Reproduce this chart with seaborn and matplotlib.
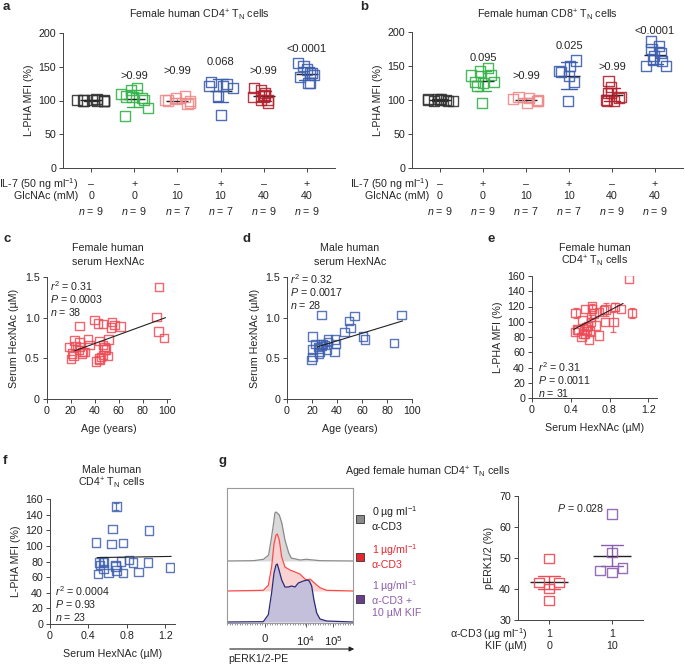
import numpy as np
import pandas as pd
import matplotlib
matplotlib.use("Agg")
import matplotlib.pyplot as plt
import matplotlib.transforms as mtrans
from matplotlib.patches import Rectangle
from matplotlib.ticker import MultipleLocator
import seaborn as sns

# -----------------------------------------------------
# Data
# -----------------------------------------------------

groups = ["g0", "g1", "g2", "g3", "g4", "g5"]
il7_row = ["–", "+", "–", "+", "–", "+"]
glcnac_row = ["0", "0", "10", "10", "40", "40"]

cd4_vals = [
    [100, 101, 99, 100, 102, 100, 99, 101, 100],
    [105, 104, 106, 101, 89, 77.5, 118, 110, 115],
    [101, 99, 103, 96, 106, 95, 100],
    [122, 121, 128, 125, 107, 79, 118],
    [106, 105, 118, 111, 108, 101, 101, 97, 116],
    [141, 138, 155.5, 150.6, 146, 141, 135, 126, 126],
]
cd4_p = ["", ">0.99", ">0.99", "0.068", ">0.99", "<0.0001"]

cd8_vals = [
    [100, 99, 101, 100, 98, 101, 100, 102, 99],
    [125, 147, 137, 142, 136, 120, 126, 126, 96],
    [100, 101, 103, 98, 105, 96, 99],
    [143, 149.5, 158, 127, 98, 140.6, 135],
    [128, 118.6, 110, 105, 103, 98, 98, 100.5, 110],
    [186, 179, 175, 165, 169, 159, 150, 149.5, 157],
]
cd8_p = ["", "0.095", ">0.99", "0.025", ">0.99", "<0.0001"]

age_f = [40, 27.5, 42.8, 47, 54.7, 56.7, 53.9, 61.7, 91.4, 93.3, 97.8, 18.6, 23.3,
         24.2, 27.5, 28, 27, 29.7, 31.7, 21.4, 22.5, 20.6, 34.4, 35.8, 44, 47, 48.3,
         48.3, 49.7, 51.7, 51.1, 45.6, 43.6, 41.4, 44.2, 47, 30, 93.5]
hex_f = [0.97, 0.90, 0.93, 0.92, 0.95, 0.91, 0.88, 0.89, 1.01, 0.83, 0.75, 0.64, 0.72,
         0.65, 0.70, 0.64, 0.60, 0.56, 0.58, 0.56, 0.53, 0.49, 0.74, 0.66, 0.71, 0.66, 0.64,
         0.61, 0.61, 0.73, 0.53, 0.52, 0.50, 0.46, 0.48, 0.54, 0.58, 1.38]
fit_c_x = [23, 99]
fit_c_y = [0.59, 1.0]

age_m = [27.7, 53.9, 49.6, 50.9, 45.9, 91.7, 61, 62.4, 85.6, 20.5, 22.4, 20.5, 20.5,
         19.7, 25.8, 25.8, 27, 29, 30.4, 33, 32.6, 31.8, 37.9, 38.4, 39.2, 25, 27.7, 26]
hex_m = [1.03, 1.02, 0.96, 0.87, 0.82, 1.03, 0.77, 0.73, 0.69, 0.77, 0.68, 0.61, 0.52,
         0.48, 0.56, 0.62, 0.68, 0.68, 0.66, 0.70, 0.74, 0.61, 0.58, 0.73, 0.68, 0.64, 0.65, 0.58]
fit_d_x = [24, 92.5]
fit_d_y = [0.64, 0.96]

hex_e = [1.00, 0.45, 0.55, 0.62, 0.62, 0.64, 0.61, 0.52, 0.61, 0.75, 0.84, 0.74, 0.76,
         0.855, 0.92, 1.03, 0.69, 0.66, 0.445, 0.48, 0.54, 0.53, 0.51, 0.55, 0.57, 0.60,
         0.59, 0.69, 0.58, 0.555, 0.47]
mfi_e = [156, 111.5, 117, 120, 117, 110.7, 106, 102, 100, 100, 100, 115, 116, 119, 117,
         111.5, 113, 95, 86.7, 89, 88, 84.6, 80, 84, 90, 87, 76.7, 82, 94, 93, 90]
err_e = [0, 6, 0, 3, 0, 0, 3, 0, 0, 0, 13, 0, 8, 5, 0, 6, 0, 0, 0, 0, 0, 0, 0, 0, 0, 0,
         0, 0, 0, 0, 0]
fit_e_x = [0.43, 0.94]
fit_e_y = [90, 124]

hex_mf = [0.69, 0.65, 1.03, 0.48, 0.64, 0.76, 0.51, 0.52, 0.55, 0.56, 0.68, 0.68, 0.74,
          0.82, 0.86, 1.02, 1.25, 0.50, 0.61, 0.69, 0.76, 0.92, 0.555]
mfi_mf = [150.4, 121.4, 119.7, 104.3, 102, 103.4, 78.6, 75.6, 79.9, 78.6, 75.6, 73.5, 79.9,
          82, 78.6, 78.6, 72.2, 64.1, 65, 68.3, 65, 66.3, 70]
err_mf = [5, 0, 0, 0, 0, 0, 0, 0, 0, 0, 0, 0, 0, 0, 0, 0, 0, 0, 0, 0, 0, 0, 0]
fit_f_x = [0.49, 1.26]
fit_f_y = [85, 86.5]

# flow histograms (x as fraction of the axis, height above each trace's baseline)
grey_x = [0.0, 0.21, 0.29, 0.33, 0.35, 0.37, 0.38, 0.39, 0.415, 0.435, 0.46, 0.49, 0.51,
          0.58, 0.63, 0.74, 1.0]
grey_h = [0, 0.3, 1.7, 6, 21, 38, 48, 49, 46, 38, 21, 8, 3, 1, 1.7, 0.3, 0]
red_x = [0.0, 0.288, 0.328, 0.354, 0.373, 0.389, 0.399, 0.415, 0.434, 0.46, 0.5, 0.54,
         0.579, 0.619, 0.638, 0.659, 0.685, 0.738, 0.791, 1.0]
red_h = [0, 0.7, 5.7, 24, 47, 56, 57, 51, 34, 24, 21, 19, 17, 12, 11, 12, 9, 3.3, 0.7, 0]
purple_x = [0.0, 0.288, 0.328, 0.354, 0.373, 0.389, 0.399, 0.415, 0.434, 0.46, 0.487,
            0.513, 0.54, 0.566, 0.606, 0.638, 0.653, 0.672, 0.69, 0.712, 0.738, 0.791, 1.0]
purple_h = [0, 0.3, 7.3, 29, 49, 57, 58, 51, 42, 35, 35, 36, 35, 39, 41, 42, 41, 36, 22,
            9, 3, 1, 0]
hist_ticks = [0.30, 0.625, 0.845]
hist_ticklabels = ["0", "$10^{4}$", "$10^{5}$"]

perk_groups = ["ctrl", "kif"]
perk_ctrl = [49.8, 42.1, 40.2, 42.1, 36.3]
perk_kif = [64.2, 51.8, 46.7, 45.3, 46.0]
acd3_row = ["1", "1"]
kif_row = ["0", "10"]

# -----------------------------------------------------
# Style
# -----------------------------------------------------

sns.set_theme(style="ticks")
plt.rcParams["font.family"] = ["Liberation Sans", "DejaVu Sans"]
plt.rcParams["mathtext.fontset"] = "custom"
plt.rcParams["mathtext.rm"] = "Liberation Sans"
plt.rcParams["mathtext.it"] = "Liberation Sans:italic"
plt.rcParams["mathtext.bf"] = "Liberation Sans:bold"
plt.rcParams["font.size"] = 7.7
plt.rcParams["axes.linewidth"] = 0.7
plt.rcParams["axes.edgecolor"] = "#444444"
plt.rcParams["xtick.color"] = "#444444"
plt.rcParams["ytick.color"] = "#444444"
plt.rcParams["xtick.labelcolor"] = "#222222"
plt.rcParams["ytick.labelcolor"] = "#222222"

FS = 7.7
BLACK = "#333333"
GREEN = "#35b24a"
PINK = "#f08a8a"
BLUE = "#3e5fae"
DRED = "#b0232e"
RED = "#ee4a55"
PURPLE = "#8c5fae"

W, H = 685, 665


def box(left, top, right, bottom):
    return [left / W, 1 - bottom / H, (right - left) / W, (bottom - top) / H]


def ftext(x, y, s, **kw):
    kw.setdefault("ha", "center")
    kw.setdefault("va", "center")
    kw.setdefault("fontsize", FS)
    fig.text(x / W, 1 - y / H, s, **kw)


def hollow(ax, start, lw=1.0, alpha=0.9):
    for coll in ax.collections[start:]:
        fc = coll.get_facecolors()
        coll.set_edgecolors(fc)
        coll.set_facecolors("none")
        coll.set_linewidth(lw)
        coll.set_alpha(alpha)


def style_ax(ax):
    sns.despine(ax=ax)
    ax.tick_params(direction="out", length=3, width=0.7, labelsize=FS, pad=2)


fig = plt.figure(figsize=(6.85, 6.65), dpi=100)

# -----------------------------------------------------
# Panels a / b : L-PHA MFI per condition
# -----------------------------------------------------

pal = [BLACK, GREEN, PINK, BLUE, DRED, BLUE]


def strip_panel(ax, vals, pvals, p_y, seed):
    df = pd.DataFrame({
        "group": np.concatenate([[g] * len(v) for g, v in zip(groups, vals)]),
        "value": np.concatenate(vals),
    })
    np.random.seed(seed)
    sns.stripplot(data=df, x="group", y="value", hue="group", palette=pal,
                  order=groups, hue_order=groups, jitter=0.32, marker="s", size=7.3,
                  legend=False, ax=ax)
    hollow(ax, 0)
    sns.pointplot(data=df, x="group", y="value", hue="group", palette=pal,
                  order=groups, hue_order=groups, errorbar="sd", capsize=0.35,
                  marker="", linestyle="none", err_kws={"linewidth": 1},
                  legend=False, ax=ax)
    sns.pointplot(data=df, x="group", y="value", order=groups, errorbar=None,
                  color="#222222", marker="_", markersize=16, markeredgewidth=1.0,
                  linestyle="none", ax=ax)
    ax.set_xlim(-0.65, 5.65)
    ax.set_ylim(0, 200)
    ax.set_yticks([0, 50, 100, 150, 200])
    ax.set_xticks(range(6))
    ax.set_xticklabels([])
    ax.set_xlabel("")
    ax.set_ylabel("L-PHA MFI (%)", fontsize=FS, labelpad=3)
    style_ax(ax)
    for i, (p, y) in enumerate(zip(pvals, p_y)):
        if p:
            ax.text(i, y, p, ha="center", va="center", fontsize=FS + 0.3)
    # condition rows under the axis
    tr = mtrans.blended_transform_factory(ax.transData, fig.transFigure)
    for i in range(6):
        ax.text(i, 1 - 184 / H, il7_row[i], transform=tr, ha="center", va="center", fontsize=FS)
        ax.text(i, 1 - 196 / H, glcnac_row[i], transform=tr, ha="center", va="center", fontsize=FS)
        ax.text(i, 1 - 211 / H, "$n$ = %d" % len(vals[i]), transform=tr, ha="center",
                va="center", fontsize=FS)


ax_a = fig.add_axes(box(63, 33, 335, 168))
strip_panel(ax_a, cd4_vals, cd4_p, [0, 137, 143, 157, 144, 176], 4)
ax_b = fig.add_axes(box(412, 32, 683, 168))
strip_panel(ax_b, cd8_vals, cd8_p, [0, 162, 136, 180, 148, 201], 7)

ftext(78, 184, "IL-7 (50 ng ml$^{-1}$)", ha="right")
ftext(78, 196, "GlcNAc (mM)", ha="right")
ftext(429, 184, "IL-7 (50 ng ml$^{-1}$)", ha="right")
ftext(429, 196, "GlcNAc (mM)", ha="right")
ftext(199, 15, "Female human CD4$^{+}$ T$_{\\rm N}$ cells")
ftext(547, 15, "Female human CD8$^{+}$ T$_{\\rm N}$ cells")

# -----------------------------------------------------
# Panels c-f : correlations
# -----------------------------------------------------


def scatter_panel(ax, x, y, color, fit_x, fit_y, err=None):
    sns.scatterplot(x=x, y=y, color=color, marker="s", s=36, ax=ax)
    hollow(ax, 0, lw=1.0, alpha=0.85)
    if err is not None:
        ex = [a for a, e in zip(x, err) if e > 0]
        ey = [b for b, e in zip(y, err) if e > 0]
        ee = [e for e in err if e > 0]
        ax.errorbar(ex, ey, yerr=ee, fmt="none", ecolor=color, elinewidth=0.9,
                    capsize=2.2, capthick=0.9, alpha=0.85)
    sns.lineplot(x=fit_x, y=fit_y, color="#222222", linewidth=0.8, ax=ax)
    style_ax(ax)


ax_c = fig.add_axes(box(46.5, 277, 170.3, 399))
scatter_panel(ax_c, age_f, hex_f, RED, fit_c_x, fit_c_y)
ax_c.set_xlim(0, 103)
ax_c.set_ylim(0, 1.5)
ax_c.set_xticks([0, 20, 40, 60, 80, 100])
ax_c.set_yticks([0, 0.5, 1.0, 1.5])
ax_c.set_yticklabels(["0", "0.5", "1.0", "1.5"])
ax_c.set_xlabel("Age (years)", fontsize=FS, labelpad=6)
ax_c.set_ylabel("Serum HexNAc (µM)", fontsize=FS, labelpad=4)

ax_d = fig.add_axes(box(287, 277, 412, 399))
scatter_panel(ax_d, age_m, hex_m, BLUE, fit_d_x, fit_d_y)
ax_d.set_xlim(0, 100)
ax_d.set_ylim(0, 1.5)
ax_d.set_xticks([0, 20, 40, 60, 80, 100])
ax_d.set_yticks([0, 0.5, 1.0, 1.5])
ax_d.set_yticklabels(["0", "0.5", "1.0", "1.5"])
ax_d.set_xlabel("Age (years)", fontsize=FS, labelpad=6)
ax_d.set_ylabel("Serum HexNAc (µM)", fontsize=FS, labelpad=4)

ax_e = fig.add_axes(box(532, 276, 657, 398))
scatter_panel(ax_e, hex_e, mfi_e, RED, fit_e_x, fit_e_y, err_e)
ax_e.set_xlim(0, 1.29)
ax_e.set_ylim(0, 160)
ax_e.set_xticks([0, 0.4, 0.8, 1.2])
ax_e.set_xticklabels(["0", "0.4", "0.8", "1.2"])
ax_e.set_yticks(range(0, 161, 20))
ax_e.set_xlabel("Serum HexNAc (µM)", fontsize=FS, labelpad=6)
ax_e.set_ylabel("L-PHA MFI (%)", fontsize=FS, labelpad=3)

ax_f = fig.add_axes(box(50, 499, 175, 624))
scatter_panel(ax_f, hex_mf, mfi_mf, BLUE, fit_f_x, fit_f_y, err_mf)
ax_f.set_xlim(0, 1.3)
ax_f.set_ylim(0, 160)
ax_f.set_xticks([0, 0.4, 0.8, 1.2])
ax_f.set_xticklabels(["0", "0.4", "0.8", "1.2"])
ax_f.set_yticks(range(0, 161, 20))
ax_f.set_xlabel("Serum HexNAc (µM)", fontsize=FS, labelpad=6)
ax_f.set_ylabel("L-PHA MFI (%)", fontsize=FS, labelpad=3)

for (x, y0), lines in [((50, 286), ["$r^{2}$ = 0.31", "$P$ = 0.0003", "$n$ = 38"]),
                       ((290, 279), ["$r^{2}$ = 0.32", "$P$ = 0.0017", "$n$ = 28"]),
                       ((538, 367), ["$r^{2}$ = 0.31", "$P$ = 0.0011", "$n$ = 31"]),
                       ((55, 591), ["$r^{2}$ = 0.0004", "$P$ = 0.93", "$n$ = 23"])]:
    for k, s in enumerate(lines):
        ftext(x, y0 + 12.8 * k, s, ha="left")

ftext(108, 248, "Female human")
ftext(108, 262, "serum HexNAc")
ftext(350, 248, "Male human")
ftext(350, 262, "serum HexNAc")
ftext(595, 248, "Female human")
ftext(595, 261, "CD4$^{+}$ T$_{\\rm N}$ cells")
ftext(112, 470, "Male human")
ftext(112, 483, "CD4$^{+}$ T$_{\\rm N}$ cells")
ftext(428, 472, "Aged female human CD4$^{+}$ T$_{\\rm N}$ cells")

# -----------------------------------------------------
# Panel g : flow histograms
# -----------------------------------------------------

ax_h = fig.add_axes(box(227, 488, 353, 623))
traces = [
    (grey_x, grey_h, 62, "#d9d9d9", "#8a8a8a"),
    (red_x, red_h, 32, "#f8d3d1", "#ff4a4a"),
    (purple_x, purple_h, 1, "#c4bfdb", "#2c2a78"),
]
for tx, th, base, fill, line in traces:
    top = [base + v for v in th]
    ax_h.fill_between(tx, base, top, color=fill, linewidth=0)
    sns.lineplot(x=tx, y=top, color=line, linewidth=0.9, ax=ax_h)
ax_h.set_xlim(0, 1)
ax_h.set_ylim(0, 135)
ax_h.set_yticks([])
ax_h.set_xticks(hist_ticks)
ax_h.set_xticklabels(hist_ticklabels)
ax_h.xaxis.set_minor_locator(MultipleLocator(0.02))
ax_h.tick_params(axis="x", which="major", direction="out", length=3, width=0.6,
                 labelsize=FS + 0.5, pad=5)
ax_h.tick_params(axis="x", which="minor", direction="out", length=1.5, width=0.4)
for sp in ax_h.spines.values():
    sp.set_color("#9a9a9a")
    sp.set_linewidth(0.8)

fig.add_artist(matplotlib.patches.FancyArrowPatch(
    (227 / W, 1 - 649 / H), (357 / W, 1 - 649 / H), transform=fig.transFigure,
    arrowstyle="-|>", mutation_scale=7, color="#222222", linewidth=0.8))
ftext(228, 659, "pERK1/2-PE", ha="left")

legend_items = [
    (519, "#8a8a8a", "0 µg ml$^{-1}$\nα-CD3", "#222222"),
    (557, "#e8262f", "1 µg/ml$^{-1}$\nα-CD3", "#e8262f"),
    (599, "#6a3d8f", "1 µg/ml$^{-1}$\nα-CD3 +\n10 µM KIF", "#8c5fae"),
]
for yc, fc, label, tc in legend_items:
    fig.add_artist(Rectangle(((360 - 4) / W, 1 - (yc + 4) / H), 8 / W, 8 / H,
                             transform=fig.transFigure, facecolor=fc,
                             edgecolor="#333333", linewidth=0.6))
    ftext(372, yc - 1, label, ha="left", color=tc, linespacing=1.2)

# -----------------------------------------------------
# Panel g : pERK1/2 quantification
# -----------------------------------------------------

ax_g = fig.add_axes(box(518, 496, 643, 620))
df_g = pd.DataFrame({
    "group": ["ctrl"] * len(perk_ctrl) + ["kif"] * len(perk_kif),
    "value": perk_ctrl + perk_kif,
})
sns.swarmplot(data=df_g, x="group", y="value", hue="group", palette=[RED, PURPLE],
              order=perk_groups, marker="s", size=7, legend=False, ax=ax_g)
hollow(ax_g, 0)
sns.pointplot(data=df_g, x="group", y="value", hue="group", palette=[RED, PURPLE],
              order=perk_groups, errorbar="se", capsize=0.35, marker="",
              linestyle="none", err_kws={"linewidth": 1}, legend=False, ax=ax_g)
sns.pointplot(data=df_g, x="group", y="value", order=perk_groups, errorbar=None,
              color="#222222", marker="_", markersize=28, markeredgewidth=1.0,
              linestyle="none", ax=ax_g)
ax_g.set_xlim(-0.5, 1.5)
ax_g.set_ylim(30, 70)
ax_g.set_yticks([30, 40, 50, 60, 70])
ax_g.set_xticks([0, 1])
ax_g.set_xticklabels([])
ax_g.set_xlabel("")
ax_g.set_ylabel("pERK1/2 (%)", fontsize=FS, labelpad=4)
style_ax(ax_g)
ax_g.text(0.5, 66, "$P$ = 0.028", ha="center", va="center", fontsize=FS)
tr_g = mtrans.blended_transform_factory(ax_g.transData, fig.transFigure)
for i in range(2):
    ax_g.text(i, 1 - 634 / H, acd3_row[i], transform=tr_g, ha="center", va="center", fontsize=FS)
    ax_g.text(i, 1 - 646 / H, kif_row[i], transform=tr_g, ha="center", va="center", fontsize=FS)
ftext(527, 634, "α-CD3 (µg ml$^{-1}$)", ha="right")
ftext(527, 646, "KIF (µM)", ha="right")

# -----------------------------------------------------
# Panel letters
# -----------------------------------------------------

for letter, x, y in [("a", 3, 7), ("b", 360, 7), ("c", 3, 239), ("d", 243, 239),
                     ("e", 488, 239), ("f", 3, 461), ("g", 218, 461)]:
    ftext(x, y, letter, ha="left", fontsize=9.5, fontweight="bold")

fig.savefig("out.png", dpi=100)
plt.close(fig)
